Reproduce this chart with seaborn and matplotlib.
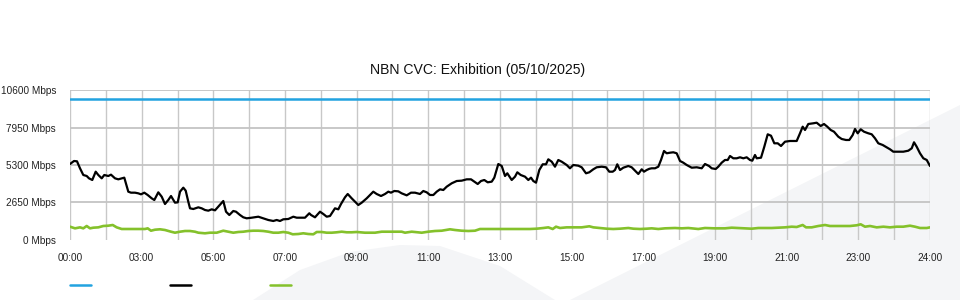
import matplotlib
matplotlib.use("Agg")
import matplotlib.pyplot as plt
from matplotlib.lines import Line2D
from matplotlib.patches import Polygon
import seaborn as sns
import pandas as pd

# ---------------- data ----------------
title = "NBN CVC: Exhibition (05/10/2025)"
tick_hours = [0, 2, 4, 6, 8, 10, 12, 14, 16, 18, 20, 22, 24]
tick_labels = ["00:00", "03:00", "05:00", "07:00", "09:00", "11:00", "13:00",
               "15:00", "17:00", "19:00", "21:00", "23:00", "24:00"]
y_ticks = [0, 2650, 5300, 7950, 10600]
y_labels = ["0 Mbps", "2650 Mbps", "5300 Mbps", "7950 Mbps", "10600 Mbps"]

cap_t = [0, 24]
cap_v = [10000, 10000]

black_t = [0.000, 0.112, 0.195, 0.279, 0.371, 0.466, 0.530, 0.622, 0.717, 0.790, 0.885, 0.957,
           1.069, 1.144, 1.256, 1.348, 1.443, 1.515, 1.627, 1.702, 1.814, 1.906, 1.981, 2.074,
           2.168, 2.280, 2.353, 2.464, 2.559, 2.651, 2.743, 2.819, 2.930, 3.006, 3.070, 3.162,
           3.229, 3.301, 3.349, 3.441, 3.581, 3.675, 3.767, 3.860, 3.954, 4.047, 4.139, 4.278,
           4.354, 4.446, 4.557, 4.633, 4.744, 4.836, 4.931, 5.071, 5.255, 5.394, 5.534, 5.673,
           5.768, 5.860, 5.953, 6.092, 6.232, 6.326, 6.466, 6.558, 6.678, 6.726, 6.837, 6.977,
           7.069, 7.164, 7.256, 7.395, 7.488, 7.563, 7.674, 7.750, 7.861, 7.954, 8.046, 8.141,
           8.280, 8.372, 8.464, 8.559, 8.679, 8.791, 8.883, 8.958, 9.050, 9.162, 9.257, 9.396,
           9.516, 9.628, 9.767, 9.860, 9.955, 10.047, 10.139, 10.234, 10.326, 10.418, 10.513,
           10.652, 10.792, 10.931, 11.071, 11.191, 11.283, 11.378, 11.470, 11.562, 11.657,
           11.769, 11.841, 11.953, 12.048, 12.140, 12.204, 12.327, 12.419, 12.483, 12.578,
           12.698, 12.790, 12.865, 12.929, 13.005, 13.097, 13.192, 13.284, 13.348, 13.443,
           13.535, 13.627, 13.722, 13.861, 13.953, 14.046, 14.185, 14.280, 14.400, 14.492,
           14.604, 14.698, 14.838, 14.958, 15.050, 15.145, 15.209, 15.273, 15.349, 15.441,
           15.581, 15.675, 15.767, 15.860, 15.955, 16.019, 16.094, 16.167, 16.233, 16.326,
           16.418, 16.493, 16.577, 16.652, 16.744, 16.837, 16.931, 17.024, 17.116, 17.211,
           17.350, 17.490, 17.629, 17.721, 17.833, 17.908, 18.020, 18.092, 18.187, 18.279,
           18.355, 18.419, 18.511, 18.606, 18.698, 18.791, 18.884, 18.977, 19.041, 19.116,
           19.164, 19.284, 19.376, 19.471, 19.563, 19.655, 19.750, 19.842, 19.954, 20.093,
           20.280, 20.372, 20.447, 20.512, 20.604, 20.744, 20.837, 20.949, 21.042, 21.134,
           21.229, 21.321, 21.441, 21.536, 21.656, 21.748, 21.843, 21.907, 21.982, 22.066,
           22.158, 22.278, 22.373, 22.465, 22.557, 22.680, 22.791, 22.884, 22.976, 23.115,
           23.255, 23.395, 23.490, 23.554, 23.628, 23.721, 23.814, 23.909, 24.000]
black_v = [5371, 5584, 5563, 5066, 4590, 4519, 4353, 4235, 4825, 4590, 4353, 4590,
           4519, 4613, 4353, 4282, 4353, 4400, 3405, 3334, 3334, 3287, 3216, 3334,
           3169, 2932, 2813, 3358, 3050, 2529, 2813, 3097, 2624, 2647, 3405, 3690,
           3476, 2695, 2222, 2174, 2293, 2222, 2103, 2055, 2151, 2080, 2340, 2742,
           1982, 1748, 2032, 1982, 1748, 1584, 1513, 1556, 1627, 1513, 1393, 1322,
           1393, 1322, 1442, 1464, 1627, 1556, 1556, 1556, 1869, 1748, 1584, 1982,
           1819, 1627, 1677, 2222, 2151, 2529, 3005, 3240, 2932, 2695, 2458, 2624,
           2932, 3169, 3405, 3240, 3097, 3240, 3405, 3334, 3453, 3429, 3287, 3145,
           3334, 3334, 3240, 3453, 3358, 3169, 3169, 3405, 3571, 3524, 3760,
           4000, 4163, 4187, 4282, 4282, 4117, 3950, 4163, 4235, 4070,
           4117, 4400, 5371, 5230, 4519, 4710, 4235, 4471, 4782, 4590,
           4471, 4235, 4400, 4163, 4045, 4945, 5350, 5350, 5705, 5535,
           5180, 5656, 5535, 5300, 5066, 5300, 5251, 5137, 4710, 4782,
           4995, 5137, 5180, 5137, 4825, 4825, 4945, 5350, 4945, 5108,
           5230, 5137, 4895, 4661, 4995, 4825, 4945, 5030, 5066, 5066,
           5180, 5656, 6295, 6132, 6174, 6203, 6132, 5585, 5464, 5300,
           5108, 5137, 5066, 5371, 5230, 5066, 5016, 5180, 5464, 5656,
           5656, 5940, 5776, 5776, 5847, 5776, 5847, 5656, 5606, 6011,
           5776, 5819, 6601, 7481, 7382, 6842, 6842, 6650, 6956, 7006,
           7006, 7552, 8022, 7787, 8213, 8263, 8306, 8071, 8213, 8022,
           7787, 7666, 7311, 7148, 7077, 7077, 7432, 7858, 7552, 7837,
           7666, 7552, 7481, 7197, 6842, 6721, 6558, 6416, 6245, 6245,
           6245, 6316, 6487, 6913, 6601, 6132, 5776, 5656, 5230]

green_t = [0.000, 0.140, 0.279, 0.371, 0.466, 0.558, 0.650, 0.790, 0.929, 1.069, 1.192, 1.303,
           1.443, 1.627, 1.861, 2.093, 2.168, 2.260, 2.372, 2.512, 2.651, 2.819, 2.930, 3.070,
           3.209, 3.349, 3.488, 3.581, 3.767, 3.907, 4.094, 4.278, 4.418, 4.557, 4.697, 4.836,
           4.976, 5.115, 5.255, 5.394, 5.534, 5.673, 5.813, 5.953, 6.092, 6.215, 6.371, 6.511,
           6.650, 6.790, 6.885, 7.024, 7.164, 7.303, 7.443, 7.582, 7.722, 7.861, 8.001, 8.233,
           8.512, 8.699, 8.978, 9.257, 9.349, 9.536, 9.815, 9.999, 10.186, 10.373, 10.605,
           10.744, 10.931, 11.116, 11.302, 11.442, 11.674, 11.953, 12.279, 12.558, 12.837,
           13.024, 13.209, 13.348, 13.471, 13.563, 13.675, 13.861, 14.046, 14.280, 14.492,
           14.604, 14.791, 14.978, 15.162, 15.349, 15.581, 15.721, 15.907, 16.094, 16.233,
           16.418, 16.605, 16.884, 17.071, 17.255, 17.534, 17.721, 18.000, 18.279, 18.466,
           18.650, 18.837, 19.024, 19.209, 19.395, 19.582, 19.767, 19.954, 20.141, 20.280,
           20.447, 20.540, 20.699, 20.883, 21.070, 21.209, 21.396, 21.581, 21.768, 21.955,
           22.066, 22.186, 22.326, 22.513, 22.698, 22.884, 23.070, 23.255, 23.442, 23.581,
           23.721, 23.909, 24.000]
green_v = [917, 800, 870, 800, 966, 800, 846, 870, 966, 988, 1037, 870,
           753, 753, 753, 753, 800, 632, 703, 732, 682, 561, 490, 561,
           611, 611, 561, 490, 448, 490, 490, 632, 561, 490, 540, 561,
           611, 632, 632, 611, 561, 490, 490, 540, 490, 377, 398, 448,
           398, 377, 540, 540, 490, 490, 519, 561, 519, 519, 540, 490,
           490, 561, 561, 561, 490, 561, 490, 561, 611, 632, 732,
           682, 632, 611, 632, 753, 753, 753, 753, 753, 753,
           775, 824, 870, 753, 917, 824, 870, 870, 870, 945,
           870, 824, 775, 753, 775, 824, 775, 753, 775, 800,
           753, 800, 824, 800, 824, 753, 824, 800, 800, 846,
           824, 800, 775, 824, 824, 824, 846, 870, 917, 895,
           1037, 870, 870, 966, 1037, 966, 966, 966, 966, 1016,
           1087, 917, 966, 870, 917, 870, 917, 917, 988, 917,
           824, 824, 870]

# ---------------- style ----------------
sns.set_style("white")
plt.rcParams["font.family"] = ["Liberation Sans", "DejaVu Sans"]

W, H = 960, 300
fig = plt.figure(figsize=(9.6, 3.0), dpi=100)
fig.patch.set_facecolor("white")


def fx(x):
    return x / W


def fy(y):
    return 1 - y / H


# faint background watermark (figure coordinates, behind the axes)
band = Polygon([(fx(570), fy(300)), (fx(960), fy(105)), (fx(960), fy(300))],
               closed=True, transform=fig.transFigure, facecolor="#f4f5f7",
               edgecolor="none", zorder=-5)
fig.patches.append(band)
swoosh = Polygon([(fx(253), fy(300)), (fx(300), fy(270)), (fx(350), fy(252)),
                  (fx(400), fy(245)), (fx(440), fy(246)), (fx(500), fy(266)),
                  (fx(555), fy(300))],
                 closed=True, transform=fig.transFigure, facecolor="#f4f5f7",
                 edgecolor="none", zorder=-5)
fig.patches.append(swoosh)

ax = fig.add_axes([70 / W, 1 - 239.6 / H, 860 / W, (239.6 - 90.4) / H])
ax.set_zorder(2)
ax.patch.set_alpha(0)

df_cap = pd.DataFrame({"hour": cap_t, "mbps": cap_v})
df_black = pd.DataFrame({"hour": black_t, "mbps": black_v})
df_green = pd.DataFrame({"hour": green_t, "mbps": green_v})

sns.lineplot(data=df_cap, x="hour", y="mbps", ax=ax, color="#22a3e0", lw=1.8, zorder=4)
sns.lineplot(data=df_green, x="hour", y="mbps", ax=ax, color="#84c12b", lw=1.9, zorder=4)
sns.lineplot(data=df_black, x="hour", y="mbps", ax=ax, color="#000000", lw=1.6, zorder=5)

ax.set_xlim(0, 24)
ax.set_ylim(0, 10600)
ax.set_xlabel("")
ax.set_ylabel("")

ax.set_xticks(tick_hours)
ax.set_xticklabels(tick_labels, fontsize=7.2, color="#222222")
ax.set_xticks(range(0, 25), minor=True)
ax.set_yticks(y_ticks)
ax.set_yticklabels(y_labels, fontsize=7.2, color="#222222")

ax.tick_params(axis="x", which="major", length=7.5, width=1, color="#c4c4c4", pad=2)
ax.tick_params(axis="x", which="minor", length=0)
ax.tick_params(axis="y", length=0, pad=10)

ax.grid(True, axis="x", which="both", color="#c8c8c8", lw=1, zorder=1)
ax.grid(True, axis="y", which="major", color="#c4c4c4", lw=1.3, zorder=1)
ax.yaxis.get_gridlines()[0].set_visible(False)
for s in ax.spines.values():
    s.set_visible(False)

fig.text(478 / W, 1 - 70 / H, title, ha="center", va="center", fontsize=10.1, color="#111111")

# legend swatches (no labels)
for x0, col in [(70, "#22a3e0"), (170, "#000000"), (270, "#84c12b")]:
    fig.add_artist(Line2D([fx(x0), fx(x0 + 21)], [fy(285), fy(285)], color=col, lw=1.8,
                          transform=fig.transFigure))

fig.savefig("out.png", dpi=100)
